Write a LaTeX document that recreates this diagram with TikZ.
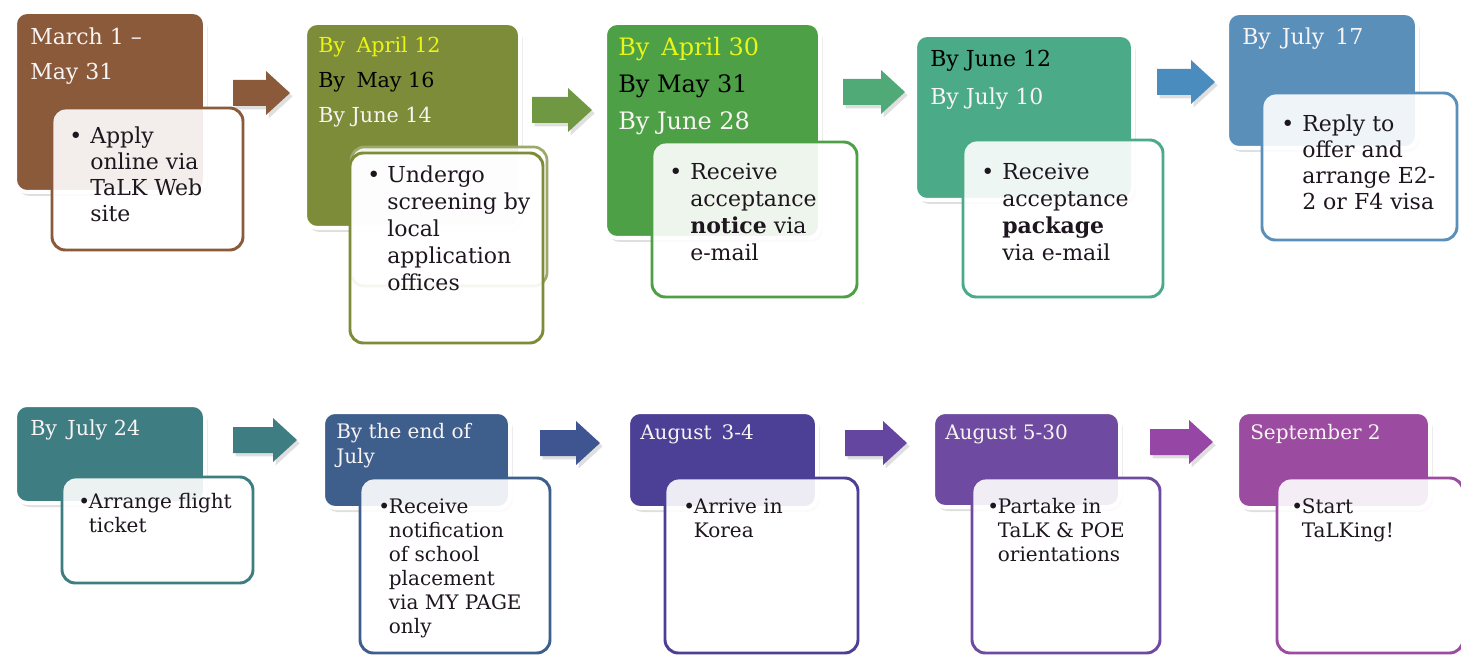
\documentclass[tikz,border=0pt]{standalone}
\usepackage{fontspec}
\setmainfont{DejaVu Serif}
\usetikzlibrary{fit,shadows}
\definecolor{cA}{RGB}{138,90,59}
\definecolor{cB}{RGB}{125,140,56}
\definecolor{aB}{RGB}{112,152,66}
\definecolor{cC}{RGB}{78,160,70}
\definecolor{aC}{RGB}{80,170,120}
\definecolor{cD}{RGB}{75,170,135}
\definecolor{aD}{RGB}{75,140,190}
\definecolor{cE}{RGB}{90,143,186}
\definecolor{cF}{RGB}{62,125,130}
\definecolor{cG}{RGB}{62,94,140}
\definecolor{aG}{RGB}{62,85,145}
\definecolor{cH}{RGB}{75,63,150}
\definecolor{aH}{RGB}{100,70,160}
\definecolor{cI}{RGB}{110,75,160}
\definecolor{aI}{RGB}{150,70,165}
\definecolor{cJ}{RGB}{155,75,160}
\definecolor{hwhite}{RGB}{248,244,244}
\definecolor{hyellow}{RGB}{235,245,20}
\definecolor{ink}{RGB}{30,22,30}
\newcommand\blist[2]{\begin{tabular}[t]{@{}l@{}l@{}}\makebox[#1][l]{\textbullet}&#2\end{tabular}}
\newcommand\hlines[1]{\begin{tabular}[t]{@{}l@{}}#1\end{tabular}}
\newcommand\blockarr[4]{%
  \fill[#4, arrowshade] (#1,#2-13) -- (#1+#3-24,#2-13) -- (#1+#3-24,#2-22) -- (#1+#3,#2)
     -- (#1+#3-24,#2+22) -- (#1+#3-24,#2+13) -- (#1,#2+13) -- cycle;}
\tikzset{
  backbox/.style={rectangle, draw=white, line width=3pt, rounded corners=9pt, fill=#1, inner sep=0pt,
    drop shadow={opacity=0.25, shadow xshift=2pt, shadow yshift=-3pt}},
  frontbox/.style={rectangle, draw=#1, line width=2.2pt, rounded corners=10pt, fill=white,
    fill opacity=0.9, draw opacity=1, inner sep=0pt},
  ghostbox/.style={rectangle, draw=#1!75, line width=2pt, rounded corners=10pt, fill=white,
    fill opacity=0.9, inner sep=0pt},
  hdr/.style={anchor=base west, inner sep=0pt, text=hwhite},
  body/.style={anchor=base west, inner sep=0pt, text=ink},
  arrowshade/.style={drop shadow={opacity=0.25, shadow xshift=2pt, shadow yshift=-2.5pt}},
  topfont/.style={font=\fontsize{16.5}{19.5}\selectfont},
  botfont/.style={font=\fontsize{15}{18}\selectfont},
}
\begin{document}
\begin{tikzpicture}[x=0.75pt, y=-0.75pt]
\useasboundingbox (0,0) rectangle (1461,656);
\fill[white] (0,0) rectangle (1461,656);

% ---------- top row ----------
\node[backbox=cA, fit={(15,12) (205,192)}] (b1) {};
\node[frontbox=cA, fit={(52,108) (243,250)}] (f1) {};
\node[hdr, font=\fontsize{16.5}{26}\selectfont] (h1) at (30,45) {\hlines{March 1 –\\May 31}};
\node[body, topfont] (t1) at (69,144) {\blist{15.75pt}{Apply\\&online via\\&TaLK Web\\&site}};
\blockarr{233}{93}{57}{cA}

\node[backbox=cB, fit={(305,23) (520,228)}] (b2) {};
\node[ghostbox=cB, fit={(351,147) (547,286)}] (g2) {};
\node[frontbox=cB, fit={(350,153) (543,343)}] (f2) {};
\node[hdr, font=\fontsize{15.5}{26}\selectfont] (h2) at (318,53)
  {\hlines{\textcolor{hyellow}{By\hspace{0.55em}April 12}\\\textcolor{black}{By\hspace{0.55em}May 16}\\By June 14}};
\node[body, font=\fontsize{16.5}{20.25}\selectfont] (t2) at (367,183)
  {\blist{15pt}{Undergo\\&screening by\\&local\\&application\\&offices}};
\blockarr{532}{110}{60}{aB}

\node[backbox=cC, fit={(605,23) (820,238)}] (b3) {};
\node[frontbox=cC, fit={(652,142) (857,297)}] (f3) {};
\node[hdr, font=\fontsize{18}{27.5}\selectfont] (h3) at (618,56)
  {\hlines{\textcolor{hyellow}{By\hspace{0.5em}April 30}\\\textcolor{black}{By May 31}\\By June 28}};
\node[body, font=\fontsize{16.5}{20.25}\selectfont] (t3) at (669,180)
  {\blist{15.75pt}{Receive\\&acceptance\\&\textbf{notice} via\\&e-mail}};
\blockarr{843}{92}{62}{aC}

\node[backbox=cD, fit={(915,35) (1133,200)}] (b4) {};
\node[frontbox=cD, fit={(963,140) (1163,297)}] (f4) {};
\node[hdr, font=\fontsize{16.5}{28}\selectfont] (h4) at (930,67)
  {\hlines{\textcolor{black}{By June 12}\\By July 10}};
\node[body, font=\fontsize{16.5}{20.25}\selectfont] (t4) at (981,180)
  {\blist{15.75pt}{Receive\\&acceptance\\&\textbf{package}\\&via e-mail}};
\blockarr{1157}{82}{58}{aD}

\node[backbox=cE, fit={(1227,13) (1417,148)}] (b5) {};
\node[frontbox=cE, fit={(1262,93) (1457,240)}] (f5) {};
\node[hdr, font=\fontsize{16.5}{26}\selectfont] (h5) at (1242,45) {By\hspace{0.5em}July\hspace{0.5em}17};
\node[body, topfont] (t5) at (1281,132)
  {\blist{15.75pt}{Reply to\\&offer and\\&arrange E2-\\&2 or F4 visa}};

% ---------- bottom row ----------
\node[backbox=cF, fit={(15,405) (205,503)}] (b6) {};
\node[frontbox=cF, fit={(62,477) (253,583)}] (f6) {};
\node[hdr, font=\fontsize{15.5}{19}\selectfont] (h6) at (30,435) {By\hspace{0.5em}July 24};
\node[body, botfont] (t6) at (78,508) {\blist{8pt}{Arrange flight\\&ticket}};
\blockarr{233}{440}{64}{cF}

\node[backbox=cG, fit={(323,412) (510,508)}] (b7) {};
\node[frontbox=cG, fit={(360,478) (550,653)}] (f7) {};
\node[hdr, font=\fontsize{15}{19}\selectfont] (h7) at (336,438) {\hlines{By the end of\\July}};
\node[body, botfont] (t7) at (378,513)
  {\blist{8pt}{Receive\\&notification\\&of school\\&placement\\&via MY PAGE\\&only}};
\blockarr{540}{443}{60}{aG}

\node[backbox=cH, fit={(628,412) (817,508)}] (b8) {};
\node[frontbox=cH, fit={(665,478) (858,653)}] (f8) {};
\node[hdr, font=\fontsize{15}{19}\selectfont] (h8) at (640,439) {August\hspace{0.5em}3-4};
\node[body, botfont] (t8) at (683,513) {\blist{8pt}{Arrive in\\&Korea}};
\blockarr{845}{443}{62}{aH}

\node[backbox=cI, fit={(933,412) (1120,507)}] (b9) {};
\node[frontbox=cI, fit={(972,478) (1160,653)}] (f9) {};
\node[hdr, font=\fontsize{15}{19}\selectfont] (h9) at (945,439) {August 5-30};
\node[body, botfont] (t9) at (987,513) {\blist{8pt}{Partake in\\&TaLK \& POE\\&orientations}};
\blockarr{1150}{442}{63}{aI}

\node[backbox=cJ, fit={(1237,412) (1430,508)}] (b10) {};
\node[frontbox=cJ, fit={(1277,478) (1463,653)}] (f10) {};
\node[hdr, font=\fontsize{15}{19}\selectfont] (h10) at (1250,439) {September 2};
\node[body, botfont] (t10) at (1291,513) {\blist{8pt}{Start\\&TaLKing!}};
\end{tikzpicture}
\end{document}
